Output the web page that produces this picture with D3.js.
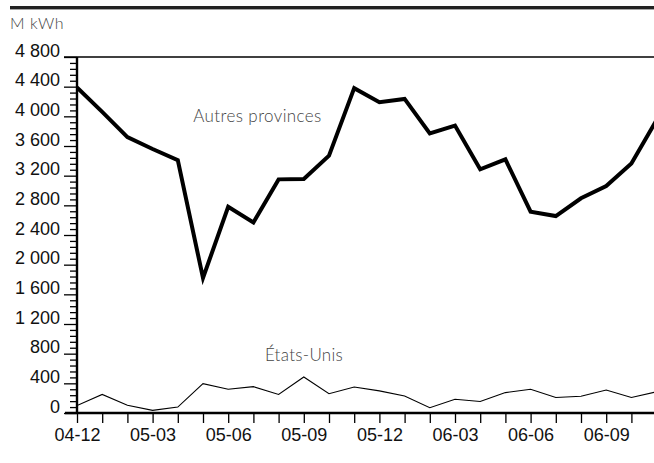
<!DOCTYPE html>
<html>
<head>
<meta charset="utf-8">
<script src="https://cdn.jsdelivr.net/npm/d3@7"></script>
<style>
  html, body { margin: 0; padding: 0; background: #fff; }
  svg { display: block; }
</style>
</head>
<body>
<script>
// ---- Data ----
const months = ["04-12","05-01","05-02","05-03","05-04","05-05","05-06","05-07","05-08","05-09","05-10","05-11",
                "05-12","06-01","06-02","06-03","06-04","06-05","06-06","06-07","06-08","06-09","06-10","06-11"];
const autresProvinces = [4390, 4060, 3720, 3560, 3410, 1820, 2780, 2570, 3150, 3155, 3470, 4380,
                         4190, 4235, 3770, 3875, 3285, 3420, 2715, 2655, 2895, 3060, 3365, 3950];
const etatsUnis = [100, 250, 105, 36, 80, 395, 320, 355, 250, 485, 260, 350,
                   298, 230, 72, 185, 155, 275, 320, 210, 225, 310, 210, 285];
const yTickValues = [0, 400, 800, 1200, 1600, 2000, 2400, 2800, 3200, 3600, 4000, 4400, 4800];
const xLabelMonths = ["04-12","05-03","05-06","05-09","05-12","06-03","06-06","06-09"];
const unitLabel = "M kWh";
const seriesLabels = ["Autres provinces", "États-Unis"];

// ---- Layout ----
const W = 654, H = 463;
const mLeft = 77, mTop = 57, mBottom = 413;
const step = 25.2;

const svg = d3.select("body").append("svg").attr("width", W).attr("height", H);

const x = d3.scaleLinear().domain([0, months.length - 1]).range([mLeft, mLeft + step * (months.length - 1)]);
const y = d3.scaleLinear().domain([0, 4800]).range([mBottom, mTop]);

const fmtSp = v => d3.format(",d")(v).replace(",", " ");
const lightFont = "Lato, 'Noto Sans', sans-serif";

// top heavy rule
svg.append("rect").attr("x", 10).attr("y", 6).attr("width", W - 10).attr("height", 3.4).attr("fill", "#222");

// unit label
svg.append("text").attr("x", 10).attr("y", 29)
  .attr("font-family", lightFont).attr("font-weight", 300)
  .attr("font-size", 16).attr("letter-spacing", 0.6).attr("fill", "#444").text(unitLabel);

// top border of plot
svg.append("line").attr("x1", mLeft - 13).attr("x2", W).attr("y1", y(4800)).attr("y2", y(4800))
  .attr("stroke", "#000").attr("stroke-width", 1.6);

// clip
svg.append("clipPath").attr("id", "clip").append("rect")
  .attr("x", mLeft).attr("y", mTop - 5).attr("width", W - mLeft).attr("height", mBottom - mTop + 5);

// minor y ticks
const minorVals = d3.range(0, 4801, 80).filter(v => v % 400 !== 0);
const yMinor = svg.append("g").attr("transform", `translate(${mLeft},0)`)
  .call(d3.axisLeft(y).tickValues(minorVals).tickSize(7).tickFormat(""));
yMinor.select(".domain").remove();
yMinor.selectAll("line").attr("stroke", "#000").attr("stroke-width", 1.3);

// major y ticks
const yAxis = svg.append("g").attr("transform", `translate(${mLeft},0)`)
  .call(d3.axisLeft(y).tickValues(yTickValues).tickSize(13).tickPadding(4).tickFormat(fmtSp));
yAxis.select(".domain").remove();
yAxis.selectAll("line").attr("stroke", "#000").attr("stroke-width", 1.3);
yAxis.selectAll("text").attr("dy", "-0.05em")
  .attr("font-family", "'Liberation Sans', Arial, sans-serif").attr("font-size", 18).attr("fill", "#111");

// y axis line
svg.append("line").attr("x1", mLeft).attr("x2", mLeft).attr("y1", mTop).attr("y2", mBottom + 1)
  .attr("stroke", "#000").attr("stroke-width", 2.4);

// x axis
const xAxis = svg.append("g").attr("transform", `translate(0,${mBottom})`)
  .call(d3.axisBottom(x).tickValues(d3.range(months.length)).tickSize(10).tickPadding(0)
    .tickFormat(i => xLabelMonths.includes(months[i]) ? months[i] : ""));
xAxis.select(".domain").remove();
xAxis.selectAll("line").attr("stroke", "#000").attr("stroke-width", 1.3);
xAxis.selectAll("text").attr("y", 15).attr("dy", "0.71em")
  .attr("font-family", "'Liberation Sans', Arial, sans-serif").attr("font-size", 18).attr("fill", "#111");

svg.append("line").attr("x1", mLeft - 12).attr("x2", W).attr("y1", mBottom).attr("y2", mBottom)
  .attr("stroke", "#000").attr("stroke-width", 2.6);

// lines
const line = d3.line().x((d, i) => x(i)).y(d => y(d));
const gLines = svg.append("g").attr("clip-path", "url(#clip)");
gLines.append("path").datum(etatsUnis).attr("d", line)
  .attr("fill", "none").attr("stroke", "#000").attr("stroke-width", 1.1).attr("stroke-linejoin", "miter");
gLines.append("path").datum(autresProvinces).attr("d", line)
  .attr("fill", "none").attr("stroke", "#000").attr("stroke-width", 4).attr("stroke-linejoin", "miter");

// series labels
svg.append("text").attr("x", 257.5).attr("y", 121.5).attr("text-anchor", "middle")
  .attr("font-family", lightFont).attr("font-weight", 300)
  .attr("font-size", 17).attr("letter-spacing", 0.4).attr("fill", "#444").text(seriesLabels[0]);
svg.append("text").attr("x", 304).attr("y", 361).attr("text-anchor", "middle")
  .attr("font-family", lightFont).attr("font-weight", 300)
  .attr("font-size", 17).attr("letter-spacing", 0.3).attr("fill", "#444").text(seriesLabels[1]);
</script>
</body>
</html>
